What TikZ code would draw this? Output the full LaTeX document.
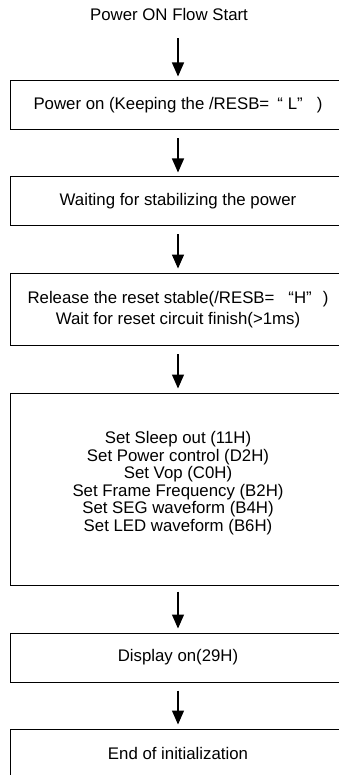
\documentclass[tikz,border=0pt]{standalone}
\usepackage{fontspec}
\setmainfont{Liberation Sans}
\usetikzlibrary{arrows.meta}
\begin{document}
\begin{tikzpicture}[x=1pt,y=-1pt,
  txt/.style={font=\fontsize{16.8}{17.5}\selectfont, align=center, inner sep=0pt},
  box/.style={draw, line width=1pt, minimum width=335pt, inner sep=0pt, txt},
  flow/.style={-{Triangle[length=14pt,width=12pt]}, line width=1.3pt}]
\useasboundingbox (0,0) rectangle (338,775);
\node[txt] (title) at (169,15) {Power ON Flow Start};
\node[box, minimum height=49pt] (b1) at (178,105.5)
  {Power on (Keeping the /RESB=\hspace{8pt}“\hspace{5pt}L”\hspace{14pt})};
\node[box, minimum height=49pt] (b2) at (178,201.5) {Waiting for stabilizing the power};
\node[box, minimum height=72.5pt, font=\fontsize{16.8}{21}\selectfont] (b3) at (178,309.3)
  {Release the reset stable(/RESB=\hspace{14pt}“H”\hspace{11pt})\\Wait for reset circuit finish(>1ms)};
\node[box, minimum height=192pt,
  label={[txt, yshift=6pt]center:Set Sleep out (11H)\\Set Power control (D2H)\\Set Vop (C0H)\\Set Frame Frequency (B2H)\\Set SEG waveform (B4H)\\Set LED waveform (B6H)}]
  (b4) at (178,489) {};
\node[box, minimum height=49pt] (b5) at (178,657.5) {Display on(29H)};
\node[box, minimum height=49pt] (b6) at (178,753.5) {End of initialization};
\draw[flow, shorten <=17pt] (title.south -| b1.north) -- ([yshift=4pt]b1.north);
\draw[flow] ([yshift=-8pt]b1.south) -- ([yshift=4pt]b2.north);
\draw[flow] ([yshift=-8pt]b2.south) -- ([yshift=4pt]b3.north);
\draw[flow] ([yshift=-8pt]b3.south) -- ([yshift=4pt]b4.north);
\draw[flow] ([yshift=-6pt]b4.south) -- ([yshift=4pt]b5.north);
\draw[flow] ([yshift=-8pt]b5.south) -- ([yshift=4pt]b6.north);
\end{tikzpicture}
\end{document}
